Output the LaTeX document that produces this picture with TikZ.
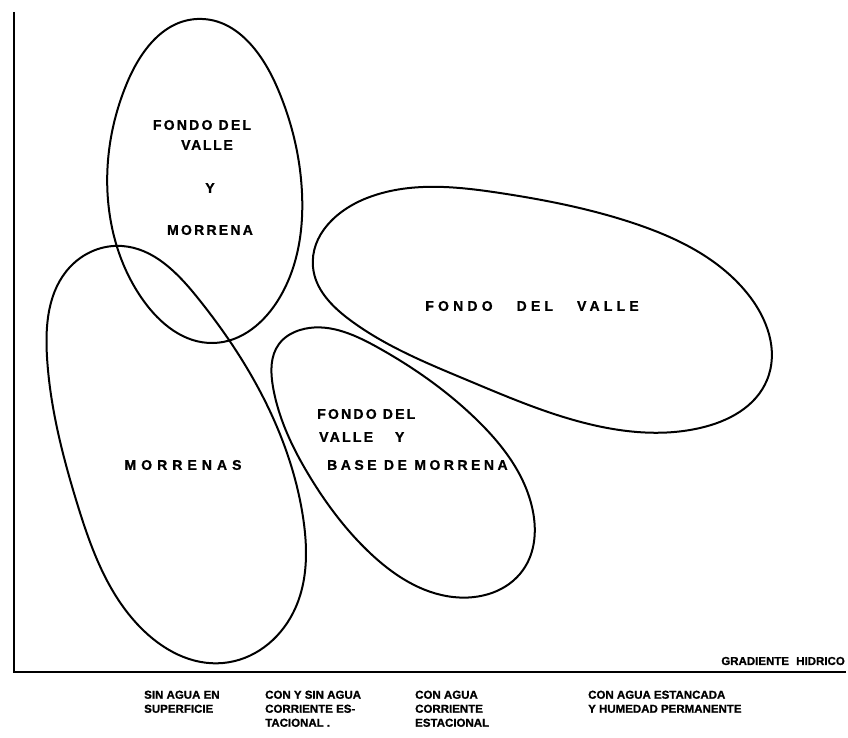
\documentclass[tikz,border=0pt]{standalone}
\usepackage{fontspec}
\setmainfont{Liberation Sans}[BoldFont={Liberation Sans Bold}]
\usetikzlibrary{hobby}
\begin{document}
\begin{tikzpicture}[x=1pt,y=-1pt,
  zone/.style={line width=2pt,use Hobby shortcut,closed=true},
  axis/.style={line width=2.8pt},
  tag/.style={font=\bfseries\fontsize{14}{16}\selectfont\addfontfeature{LetterSpace=#1,FakeBold=1},inner sep=0pt},
  tag/.default=16,
  cond/.style={font=\bfseries\fontsize{11.5}{14}\selectfont\addfontfeature{FakeBold=1},align=left,anchor=north west,inner sep=0pt}]
\useasboundingbox (0,0) rectangle (848,738);
\coordinate (ytop) at (14,12);
\coordinate (origin) at (14,672);
\coordinate (xend) at (846,672);
\draw[axis] (ytop) -- (origin) -- (xend);
\draw[zone] (197,19) .. (277,87) .. (302,193) .. (280,297) .. (213,343)
  .. (143,300) .. (108,200) .. (127,83);
\draw[zone] (122,246) .. (197,297) .. (263,397) .. (303,517) .. (293,613)
  .. (223,663) .. (140,627) .. (77,503) .. (47,357) .. (70,267);
\draw[zone] (313,267) .. (367,198) .. (500,193) .. (633,223) .. (747,293)
  .. (767,380) .. (700,428) .. (593,425) .. (467,380) .. (350,320);
\draw[zone] (300,330) .. (377,347) .. (477,420) .. (532,507) .. (523,570)
  .. (453,597) .. (370,553) .. (310,477) .. (273,387) .. (279,344);
\node[tag] (fondo1) at (202,125) {FONDO DEL};
\node[tag=12] (valle1) at (207,145) {VALLE};
\node[tag] (y1) at (210,188) {Y};
\node[tag] (morrena1) at (210,230) {MORRENA};
\node[tag=30] (fondovalle) at (532,306) {FONDO\hspace{24pt}DEL\hspace{24pt}VALLE};
\node[tag=36] (morrenas) at (183,465) {MORRENAS};
\node[tag,anchor=west] (fondo4) at (317,414) {FONDO DEL};
\node[tag,anchor=west] (valle4) at (319,437) {VALLE\hspace{22pt}Y};
\node[tag=25,anchor=west] (base4) at (327,465) {BASE DE MORRENA};
\node[cond,anchor=east] (gradiente) at (845,661) {GRADIENTE\hspace{4pt} HIDRICO};
\node[cond] (sinagua) at (144,690.5) {SIN AGUA EN\\SUPERFICIE};
\node[cond] (conysin) at (265,690.5) {CON Y SIN AGUA\\CORRIENTE ES-\\TACIONAL .};
\node[cond] (conagua) at (415,690.5) {CON AGUA\\CORRIENTE\\ESTACIONAL};
\node[cond] (estancada) at (588,690.5) {CON AGUA ESTANCADA\\Y HUMEDAD PERMANENTE};
\end{tikzpicture}
\end{document}
